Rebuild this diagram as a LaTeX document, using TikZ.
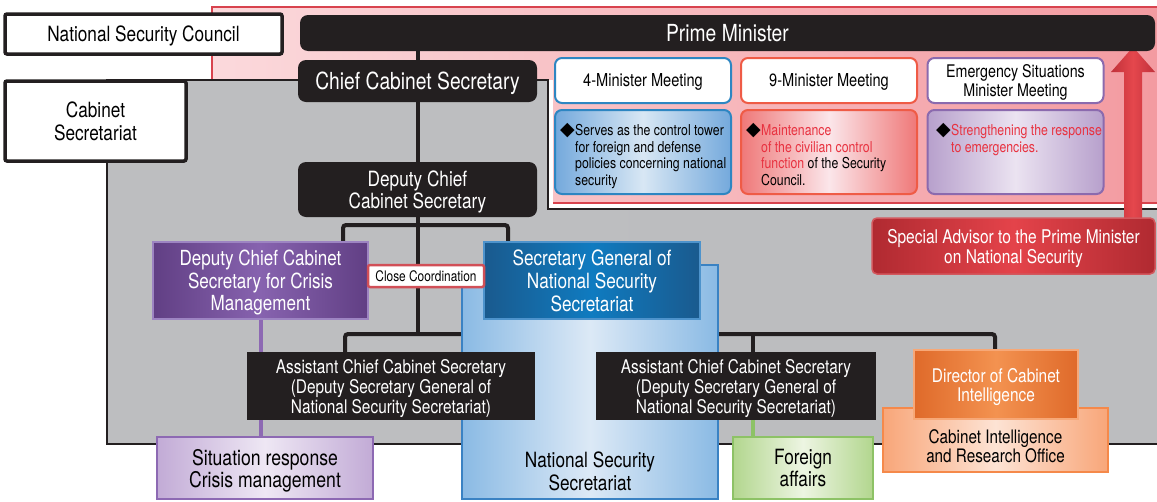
\documentclass[tikz,border=0pt]{standalone}
\usepackage{fontspec}
\setmainfont{TeX Gyre Heros}[FakeStretch=0.82]
\newfontfamily\diafont{DejaVu Sans}
\usetikzlibrary{calc}
\definecolor{dk}{HTML}{231F20}
\definecolor{pinkL}{HTML}{FBD9DC}
\definecolor{pinkR}{HTML}{F39AA0}
\definecolor{pinkB}{HTML}{D8434E}
\definecolor{grayL}{HTML}{BDBEC0}
\definecolor{grayM}{HTML}{E3E3E4}
\definecolor{grayR}{HTML}{BCBDBF}
\definecolor{purD}{HTML}{613F84}
\definecolor{purM}{HTML}{8763AF}
\definecolor{purB}{HTML}{9D84C2}
\definecolor{purLE}{HTML}{C2ABD6}
\definecolor{purLM}{HTML}{EEE7F4}
\definecolor{purLB}{HTML}{8D69B3}
\definecolor{bluD}{HTML}{1A5A8E}
\definecolor{bluM}{HTML}{0F7BC0}
\definecolor{bluB}{HTML}{4D93CC}
\definecolor{bluLE}{HTML}{8ABAE4}
\definecolor{bluLM}{HTML}{DCE9F6}
\definecolor{bluLB}{HTML}{3A82C3}
\definecolor{grnE}{HTML}{B2D68E}
\definecolor{grnM}{HTML}{EDF5E2}
\definecolor{grnB}{HTML}{8DC266}
\definecolor{orD}{HTML}{DF6A2A}
\definecolor{orM}{HTML}{F39250}
\definecolor{orB}{HTML}{F7A877}
\definecolor{orLE}{HTML}{F8A679}
\definecolor{orLM}{HTML}{FDE3D4}
\definecolor{orLB}{HTML}{F5894A}
\definecolor{redD}{HTML}{B02A31}
\definecolor{redM}{HTML}{E4434A}
\definecolor{redB}{HTML}{D3575D}
\definecolor{arrE}{HTML}{C0313A}
\definecolor{arrM}{HTML}{E5474D}
\definecolor{mBlue}{HTML}{2D86C2}
\definecolor{mBlueE}{HTML}{74A9DC}
\definecolor{mBlueM}{HTML}{D8E7F4}
\definecolor{mRed}{HTML}{EF5B46}
\definecolor{mRedE}{HTML}{EF7878}
\definecolor{mRedM}{HTML}{FBE6EA}
\definecolor{mPur}{HTML}{8B6AAE}
\definecolor{mPurE}{HTML}{B7A0CC}
\definecolor{mPurM}{HTML}{EBE3F1}
\definecolor{redtxt}{HTML}{E83240}
\definecolor{ccB}{HTML}{D14F57}
\newcommand\fz[2]{\fontsize{#1}{#2}\selectfont}
\newcommand\dmd{\llap{\diafont\fz{19}{19}◆\hspace{0.5pt}}}
\pgfdeclarelayer{back}
\pgfdeclarelayer{mid}
\pgfsetlayers{back,mid,main}
\begin{document}
\begin{tikzpicture}[x=1pt,y=-1pt,
  every node/.style={text depth=0pt},
  framebox/.style={draw=dk, line width=3.5pt, fill=white, rounded corners=2pt, inner sep=0pt, align=center},
  blackbox/.style={fill=dk, text=white, rounded corners=8pt, inner sep=0pt, align=center},
  sqblack/.style={fill=dk, text=white, inner sep=0pt, align=center, font=\fz{18.8}{20}},
  shbox/.style args={#1/#2/#3}{draw=#3, left color=#1, right color=#1, middle color=#2, inner sep=0pt, align=center},
  conn/.style={draw=dk, line width=4pt, rounded corners=3pt},
  mhead/.style={draw=#1, line width=2pt, fill=white, rounded corners=7pt, inner sep=0pt, align=center, font=\fz{17.8}{19.3}, minimum width=176pt, minimum height=45pt},
  mdesc/.style={rounded corners=7pt, line width=2pt, inner sep=0pt, minimum width=176pt, minimum height=84pt},
  desctext/.style={inner sep=0pt, align=left, anchor=north west, font=\fz{15}{16.7}}
]
\useasboundingbox (0,0) rectangle (1157,501);
\begin{pgfonlayer}{back}
  \fill[white] (0,0) rectangle (1157,501);
  \shade[left color=pinkL, right color=pinkR] (212,7) rectangle (1170,203);
  \draw[pinkB, line width=1.6pt] (1170,7) -- (212,7) -- (212,203) -- (1170,203);
  \draw[white, line width=4pt] (551,80) -- (551,206) -- (1170,206);
  \shade[left color=grayL, middle color=grayM, right color=grayR]
     (107,80) -- (548,80) -- (548,209) -- (1159,209) -- (1159,444) -- (107,444) -- cycle;
  \draw[dk, line width=2pt] (107,80) -- (548,80) -- (548,209) -- (1159,209) -- (1159,444) -- (107,444) -- cycle;
\end{pgfonlayer}

% boxes
\node[framebox, minimum width=277pt, minimum height=40pt, font=\fz{21}{22}] (nsc) at (143.5,34) {National Security Council};
\node[framebox, minimum width=181pt, minimum height=80pt, font=\fz{21}{22.5}] (cabsec) at (95.5,121) {Cabinet\\Secretariat};

\node[blackbox, minimum width=855pt, minimum height=36pt, font=\fz{23.5}{25}] (pm) at (727.5,33) {Prime Minister};
\node[blackbox, minimum width=239pt, minimum height=42pt, font=\fz{23.5}{25}] (chief) at (417.5,81) {Chief Cabinet Secretary};
\node[blackbox, minimum width=239pt, minimum height=55pt, font=\fz{21}{22}] (deputy) at (417.5,189.5) {Deputy Chief\\Cabinet Secretary};

\node[mhead=mBlue] (m4) at (643,80.5) {4-Minister Meeting};
\node[mhead=mRed] (m9) at (829,80.5) {9-Minister Meeting};
\node[mhead=mPur, font=\fz{17.4}{19.3}] (mem) at (1015.5,80.5) {Emergency Situations\\Minister Meeting};
\node[mdesc, draw=mBlue, left color=mBlueE, right color=mBlueE, middle color=mBlueM] (d4) at (643,152) {};
\node[mdesc, draw=mRed, left color=mRedE, right color=mRedE, middle color=mRedM] (d9) at (829,152) {};
\node[mdesc, draw=mPur, left color=mPurE, right color=mPurE, middle color=mPurM] (dem) at (1015.5,152) {};
\node[desctext] (t4) at (575,123) {\dmd Serves as the control tower\\for foreign and defense\\policies concerning national\\security};
\node[desctext] (t9) at (761,123) {\dmd\textcolor{redtxt}{Maintenance}\\\textcolor{redtxt}{of the civilian control}\\\textcolor{redtxt}{function} of the Security\\Council.};
\node[desctext] (tem) at (951,123) {\dmd\textcolor{redtxt}{Strengthening the response}\\\textcolor{redtxt}{to emergencies.}};

\node[shbox=bluLE/bluLM/bluLB, line width=2.5pt, minimum width=256pt, minimum height=234pt,
   label={[inner sep=0pt, anchor=south, yshift=10pt, font=\fz{21}{22.5}, align=center]south:National Security\\Secretariat}] (nss) at (590,382) {};
\node[shbox=purD/purM/purB, line width=2pt, text=white, minimum width=215pt, minimum height=77pt, font=\fz{20.8}{22.6}] (dcc) at (260.5,280.5) {Deputy Chief Cabinet\\Secretary for Crisis\\Management};
\node[shbox=bluD/bluM/bluB, line width=2pt, text=white, minimum width=216pt, minimum height=77pt, font=\fz{21}{23}] (sg) at (592,280.5) {Secretary General of\\National Security\\Secretariat};
\node[draw=ccB, line width=2.5pt, fill=white, rounded corners=2pt, inner sep=0pt, minimum width=116pt, minimum height=22pt, font=\fz{14.5}{15}] (cc) at (426,276) {Close Coordination};

\node[sqblack, minimum width=288pt, minimum height=68pt] (asstL) at (391,386) {Assistant Chief Cabinet Secretary\\(Deputy Secretary General of\\National Security Secretariat)};
\node[sqblack, minimum width=280pt, minimum height=68pt] (asstR) at (736,386) {Assistant Chief Cabinet Secretary\\(Deputy Secretary General of\\National Security Secretariat)};

\node[shbox=purLE/purLM/purLB, line width=2.5pt, minimum width=216pt, minimum height=62pt, font=\fz{21.5}{22}] (sit) at (265,468) {Situation response\\Crisis management};
\node[shbox=grnE/grnM/grnB, line width=2.5pt, minimum width=140pt, minimum height=62pt, font=\fz{21}{22.5}] (fa) at (803,468) {Foreign\\affairs};
\node[shbox=orLE/orLM/orLB, line width=2.5pt, minimum width=225pt, minimum height=64pt,
   label={[inner sep=0pt, anchor=center, yshift=-6pt, font=\fz{18.6}{19.4}, align=center]center:Cabinet Intelligence\\and Research Office}] (ciro) at (995.5,440) {};
\node[shbox=orD/orM/orB, line width=2pt, text=white, minimum width=164pt, minimum height=69pt, font=\fz{18.8}{19}] (dci) at (996,384.5) {Director of Cabinet\\Intelligence};

% connectors
\coordinate (bL) at (343,225);
\coordinate (bR) at (508,225);
\coordinate (jL) at (345,334);
\coordinate (jM) at (753,334);
\coordinate (jR) at (995,334);
\coordinate (pl) at (261,330);
\coordinate (tip) at (1133,47);
\coordinate (abase) at (1133,72);
\begin{pgfonlayer}{mid}
  \draw[conn] (pm.south -| chief.north) -- (chief.north);
  \draw[conn] (chief.south) -- (deputy.north);
  \draw[conn] (deputy.south) -- (deputy.south |- jL);
  \draw[conn] (dcc.north -| bL) -- (bL) -- (bR) -- (bR |- sg.north);
  \draw[conn] (asstL.north -| jL) -- (jL) -- (jR) -- (jR |- dci.north);
  \draw[conn] (jM) -- (jM |- asstR.north);
  \draw[draw=purLB, line width=4pt] (dcc.south -| pl) -- (sit.north -| pl);
  \draw[draw=grnB, line width=4pt] (asstR.south -| jM) -- (fa.north -| jM);
\end{pgfonlayer}

\node[draw=redB, line width=1.5pt, rounded corners=5pt, left color=redD, right color=redD, middle color=redM, text=white, inner sep=0pt, align=center, minimum width=283pt, minimum height=56pt, font=\fz{18.9}{20}] (spa) at (1013.5,246) {Special Advisor to the Prime Minister\\on National Security};

\begin{pgfonlayer}{mid}
  \shade[left color=arrE, right color=arrE, middle color=arrM]
    ($(abase |- spa.north)+(-9,2)$) -- ($(abase)+(-9,0)$) -- ($(abase)+(-22,0)$) -- (tip)
    -- ($(abase)+(22,0)$) -- ($(abase)+(9,0)$) -- ($(abase |- spa.north)+(9,2)$) -- cycle;
\end{pgfonlayer}
\end{tikzpicture}
\end{document}
